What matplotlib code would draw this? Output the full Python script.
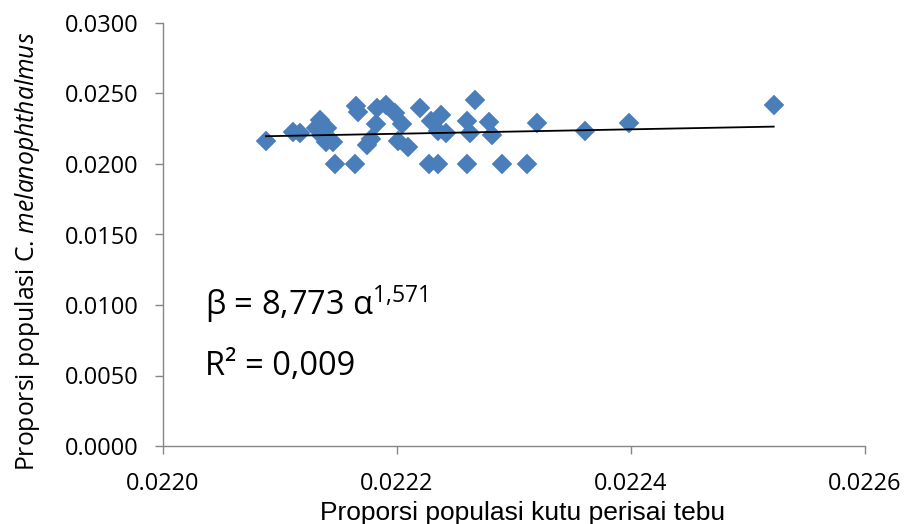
import numpy as np
import matplotlib
matplotlib.use("Agg")
import matplotlib.pyplot as plt
from matplotlib.ticker import FormatStrFormatter

plt.rcParams['font.family'] = ['Open Sans', 'DejaVu Sans']
plt.rcParams['mathtext.fontset'] = 'custom'
plt.rcParams['mathtext.rm'] = 'Open Sans'
plt.rcParams['mathtext.it'] = 'Open Sans:italic'

# proporsi populasi kutu perisai tebu (x) dan C. melanophthalmus (y)
kutu = [0.022088, 0.022111, 0.022117,
        0.022134, 0.022131, 0.022140, 0.022136, 0.022139, 0.022145,
        0.022165, 0.022167,
        0.022183, 0.022191, 0.022198, 0.022204, 0.022182, 0.022178, 0.022174,
        0.022201, 0.022209, 0.022220, 0.022229, 0.022238, 0.022235, 0.022242,
        0.022267, 0.022260, 0.022262, 0.022279, 0.022281,
        0.022320, 0.022361, 0.022398, 0.022522,
        0.022147, 0.022164, 0.022227, 0.022235, 0.022260, 0.022290, 0.022311]
melano = [0.02163, 0.02227, 0.02220,
          0.02312, 0.02255, 0.02255, 0.02199, 0.02156, 0.02156,
          0.02411, 0.02369,
          0.02397, 0.02418, 0.02362, 0.02284, 0.02284, 0.02177, 0.02135,
          0.02163, 0.02121, 0.02397, 0.02305, 0.02348, 0.02234, 0.02220,
          0.02454, 0.02305, 0.02220, 0.02298, 0.02206,
          0.02291, 0.02234, 0.02291, 0.02418,
          0.02000, 0.02000, 0.02000, 0.02000, 0.02000, 0.02000, 0.02000]

# trendline daya: beta = a * alpha^b
a_coef = 8.773
b_coef = 1.571
r2 = 0.009

x_ticks = [0.0220, 0.0222, 0.0224, 0.0226]
y_ticks = [0.0000, 0.0050, 0.0100, 0.0150, 0.0200, 0.0250, 0.0300]

W, H = 906, 524
fig = plt.figure(figsize=(W / 100, H / 100), dpi=100)
ax = fig.add_axes([163 / W, 1 - 446 / H, (865 - 163) / W, (446 - 23) / H])

ax.plot(kutu, melano, linestyle='none', marker='D', markersize=10.5,
        markerfacecolor='#4a7ebb', markeredgecolor='#4a7ebb', markeredgewidth=0.3,
        zorder=3)

xs = np.linspace(min(kutu), max(kutu), 50)
ax.plot(xs, a_coef * xs ** b_coef, color='black', linewidth=1.3, zorder=4)

ax.set_xlim(x_ticks[0], x_ticks[-1])
ax.set_ylim(y_ticks[0], y_ticks[-1])
ax.set_xticks(x_ticks)
ax.set_yticks(y_ticks)
ax.xaxis.set_major_formatter(FormatStrFormatter('%.4f'))
ax.yaxis.set_major_formatter(FormatStrFormatter('%.4f'))

for side in ('top', 'right'):
    ax.spines[side].set_visible(False)
for side in ('left', 'bottom'):
    ax.spines[side].set_color('#868686')
    ax.spines[side].set_linewidth(1.0)
ax.tick_params(axis='both', direction='out', length=5.5, width=1.0,
               color='#868686', labelsize=17, labelcolor='black')
ax.tick_params(axis='y', pad=12)
ax.tick_params(axis='x', pad=13)

fig.text(523 / W, 1 - 520 / H, 'Proporsi populasi kutu perisai tebu',
         family='Liberation Sans', fontsize=19, ha='center', va='baseline')
fig.text(28 / W, 1 - 251 / H, r'Proporsi populasi C. $\mathit{melanophthalmus}$',
         fontsize=17.8, rotation=90, ha='center', va='center')

fig.text(205 / W, 1 - 315 / H, r'β = 8,773 α$^{1{,}571}$',
         fontsize=23.5, ha='left', va='baseline')
fig.text(205 / W, 1 - 375 / H, 'R² = 0,009',
         fontsize=23.5, ha='left', va='baseline')

fig.savefig('out.png', dpi=100)
